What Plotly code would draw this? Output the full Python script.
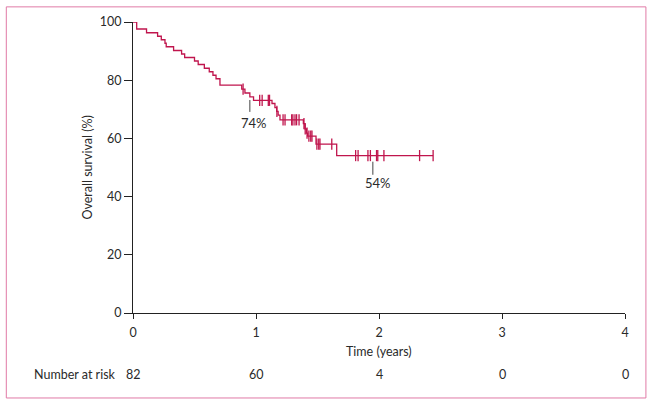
import numpy as np
import plotly.graph_objects as go

# Kaplan-Meier step curve (time in years, overall survival %)
step_times = [0, 0.03, 0.11, 0.20, 0.23, 0.26, 0.27, 0.33, 0.395, 0.42, 0.50, 0.53,
              0.58, 0.62, 0.65, 0.675, 0.707, 0.884, 0.91, 0.95, 0.98, 1.13, 1.154,
              1.168, 1.18, 1.195, 1.385, 1.398, 1.41, 1.42, 1.488, 1.656, 2.44]
step_surv = [100, 97.6, 96.3, 95.1, 93.9, 92.7, 91.5, 90.2, 89.0, 87.8, 86.6, 85.4,
             84.1, 82.9, 81.7, 80.5, 78.3, 76.9, 75.6, 74.3, 73.1, 72.0, 70.6,
             69.3, 68.0, 66.4, 65.1, 63.3, 61.8, 60.8, 58.0, 54.1, 54.1]

# Censoring times (years)
censor_times = [0.895, 1.03, 1.05, 1.10, 1.11, 1.17, 1.22, 1.236, 1.29, 1.30, 1.317,
                1.33, 1.35, 1.39, 1.40, 1.415, 1.43, 1.445, 1.455, 1.495, 1.51, 1.52,
                1.616, 1.81, 1.83, 1.91, 1.93, 1.98, 1.99, 2.04, 2.33, 2.44]

# Number at risk
risk_times = [0, 1, 2, 3, 4]
risk_counts = ["82", "60", "4", "0", "0"]

x_ticks = [0, 1, 2, 3, 4]
y_ticks = [0, 20, 40, 60, 80, 100]

# Landmark labels
landmark_times = [0.95, 1.95]
landmark_labels = ["74%", "54%"]
landmark_line_top = [73.2, 52.0]
landmark_line_bottom = [69.1, 47.5]
landmark_text_x = [0.985, 1.99]
landmark_text_y = [65.4, 44.8]

CURVE = "#c0154d"
TEXT = "#2a2a2a"
FONT = "Lato"

st = np.array(step_times)
ss = np.array(step_surv)
ct = np.array(censor_times)
idx = np.searchsorted(st, ct, side="right") - 1
censor_surv = ss[idx]

fig = go.Figure()
fig.add_trace(go.Scatter(x=step_times, y=step_surv, mode="lines", line_shape="hv",
                         line=dict(color=CURVE, width=1.3), hoverinfo="skip",
                         showlegend=False))
fig.add_trace(go.Scatter(x=censor_times, y=censor_surv, mode="markers",
                         marker=dict(symbol="line-ns-open", size=8, color=CURVE,
                                     line=dict(color=CURVE, width=1.3)),
                         showlegend=False, hoverinfo="skip"))
for t, a, b in zip(landmark_times, landmark_line_top, landmark_line_bottom):
    fig.add_trace(go.Scatter(x=[t, t], y=[a, b], mode="lines",
                             line=dict(color="#444444", width=1),
                             showlegend=False, hoverinfo="skip"))

annotations = []
for tx, ty, lab in zip(landmark_text_x, landmark_text_y, landmark_labels):
    annotations.append(dict(x=tx, y=ty, xref="x", yref="y", text=lab,
                            xanchor="center", yanchor="middle",
                            showarrow=False, font=dict(family=FONT, size=13, color=TEXT)))
for t, n in zip(risk_times, risk_counts):
    annotations.append(dict(x=t, y=-0.213, xref="x", yref="paper", text=n,
                            xanchor="center", yanchor="middle",
                            showarrow=False, font=dict(family=FONT, size=12.5, color=TEXT)))
annotations.append(dict(x=-0.205, y=-0.213, xref="paper", yref="paper",
                        text="Number at risk", xanchor="left", yanchor="middle",
                        showarrow=False, font=dict(family=FONT, size=12.5, color=TEXT)))
annotations.append(dict(x=0.5, y=-0.134, xref="paper", yref="paper",
                        text="Time (years)", xanchor="center", yanchor="middle",
                        showarrow=False, font=dict(family=FONT, size=12.5, color=TEXT)))
annotations.append(dict(x=-0.0915, y=0.5, xref="paper", yref="paper",
                        text="Overall survival (%)", textangle=-90,
                        xanchor="center", yanchor="middle", showarrow=False,
                        font=dict(family=FONT, size=12.5, color=TEXT)))

fig.update_layout(
    width=652, height=405,
    margin=dict(l=133, r=27, t=22, b=92),
    paper_bgcolor="white", plot_bgcolor="white",
    font=dict(family=FONT, size=12, color=TEXT),
    annotations=annotations,
    shapes=[dict(type="rect", xref="paper", yref="paper",
                 x0=-0.2575, x1=1.0425, y0=-0.292, y1=1.052,
                 line=dict(color="#e07aa6", width=1))],
    xaxis=dict(range=[0, 4], tickvals=x_ticks, ticks="outside", ticklen=5,
               ticklabelstandoff=3,
               tickcolor="#222222", showline=True, linecolor="#222222", linewidth=1,
               showgrid=False, zeroline=False, tickfont=dict(size=12.5, color=TEXT)),
    yaxis=dict(range=[0, 100], tickvals=y_ticks, ticks="outside", ticklen=8,
               tickcolor="#222222", showline=True, linecolor="#222222", linewidth=1,
               showgrid=False, zeroline=False, tickfont=dict(size=12.5, color=TEXT)),
)
fig.write_html("out.html", config={"displayModeBar": False},
               post_script="document.body.style.margin='0';document.body.style.padding='0';"
                           "document.body.style.overflow='hidden';")
